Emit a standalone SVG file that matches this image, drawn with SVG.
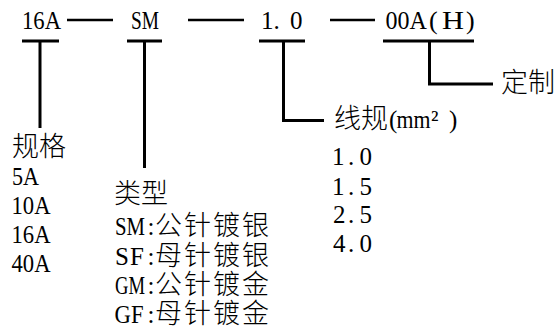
<svg xmlns="http://www.w3.org/2000/svg" width="558" height="334" viewBox="0 0 558 334">
<style>
.l{font-family:"Liberation Serif","Noto Sans CJK SC",serif;font-size:25px;fill:#000}
.c{font-family:"Noto Sans CJK SC","Liberation Sans",sans-serif;font-size:27px;font-weight:300;fill:#000}
.bar{stroke:#000;stroke-width:3;fill:none;stroke-linecap:butt}
.dash{stroke:#000;stroke-width:2.5;fill:none}
</style>
<rect x="0" y="0" width="558" height="334" fill="#fff"/>
<g id="connectors">
<line class="dash" x1="67" y1="20" x2="113" y2="20"/>
<line class="dash" x1="188" y1="20" x2="244" y2="20"/>
<line class="dash" x1="330" y1="20" x2="375" y2="20"/>
<line class="bar" x1="22" y1="41" x2="59" y2="41"/>
<line class="bar" x1="40" y1="41" x2="40" y2="128"/>
<line class="bar" x1="127" y1="41" x2="162" y2="41"/>
<line class="bar" x1="144.5" y1="41" x2="144.5" y2="168"/>
<line class="bar" x1="259" y1="41" x2="305" y2="41"/>
<polyline class="bar" points="283.5,41 283.5,120.5 324,120.5"/>
<line class="bar" x1="383" y1="41" x2="474" y2="41"/>
<polyline class="bar" points="429.5,41 429.5,84 493,84"/>
</g>
<g id="code-rating">
<text class="l" x="22" y="29" textLength="39" lengthAdjust="spacingAndGlyphs">16A</text>
</g>
<g id="code-type">
<text class="l" x="131" y="29" textLength="28" lengthAdjust="spacingAndGlyphs">SM</text>
</g>
<g id="code-gauge">
<text class="l" x="261 273.5 290" y="29">1.0</text>
</g>
<g id="code-custom">
<text class="l" y="29"><tspan x="385.5" textLength="40" lengthAdjust="spacingAndGlyphs">00A</tspan> <tspan x="429" style="font-size:26px">(</tspan><tspan x="442" textLength="22" lengthAdjust="spacingAndGlyphs">H</tspan><tspan x="466" style="font-size:26px">)</tspan></text>
</g>
<g id="label-custom">
<text class="c" x="501" y="91.5">定制</text>
</g>
<g id="label-gauge">
<text y="128"><tspan class="c" x="334">线规</tspan><tspan class="l" x="389">(</tspan><tspan class="l" x="396.5" textLength="34" lengthAdjust="spacingAndGlyphs">mm</tspan><tspan class="l" x="431 440 449">² )</tspan></text>
<text class="l" x="332 348 359.5" y="165">1.0</text>
<text class="l" x="332 348 359.5" y="195">1.5</text>
<text class="l" x="333 348 359.5" y="223">2.5</text>
<text class="l" x="333 348 359.5" y="252">4.0</text>
</g>
<g id="label-rating">
<text class="c" x="12" y="156">规格</text>
<text class="l" x="12" y="185" textLength="27" lengthAdjust="spacingAndGlyphs">5A</text>
<text class="l" x="11.5" y="214" textLength="39" lengthAdjust="spacingAndGlyphs">10A</text>
<text class="l" x="11.5" y="243" textLength="39" lengthAdjust="spacingAndGlyphs">16A</text>
<text class="l" x="11.5" y="272" textLength="39" lengthAdjust="spacingAndGlyphs">40A</text>
</g>
<g id="label-type">
<text class="c" x="114" y="203">类型</text>
<text y="235"><tspan class="l" x="115" textLength="30" lengthAdjust="spacingAndGlyphs">SM</tspan><tspan class="l" x="147.5">:</tspan><tspan class="c" x="155 184 213 242">公针镀银</tspan></text>
<text y="265"><tspan class="l" x="115 130">SF</tspan><tspan class="l" x="147.5">:</tspan><tspan class="c" x="155 184 213 242">母针镀银</tspan></text>
<text y="294"><tspan class="l" x="115" textLength="30" lengthAdjust="spacingAndGlyphs">GM</tspan><tspan class="l" x="147.5">:</tspan><tspan class="c" x="155 184 213 242">公针镀金</tspan></text>
<text y="323"><tspan class="l" x="114.5" textLength="29" lengthAdjust="spacingAndGlyphs">GF</tspan><tspan class="l" x="147.5">:</tspan><tspan class="c" x="155 184 213 242">母针镀金</tspan></text>
</g>
</svg>
